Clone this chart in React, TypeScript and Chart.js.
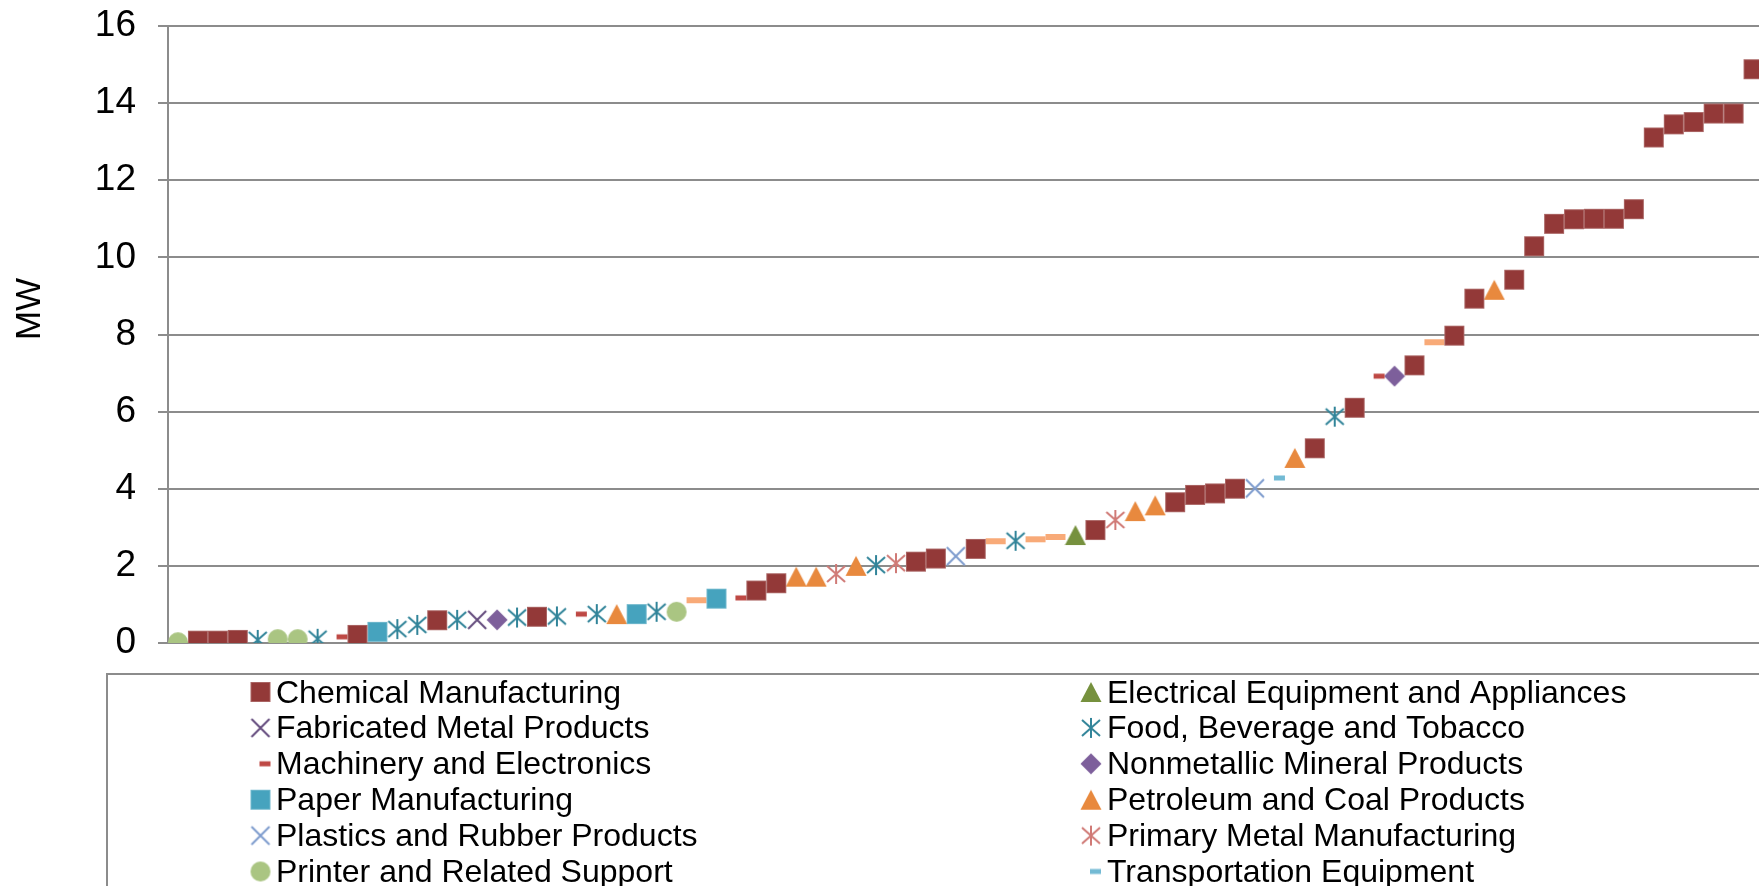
import React, { useEffect, useRef } from "react";
import { Chart, registerables } from "chart.js";

Chart.register(...registerables);

// ---- data ----
const sectorKeys = ["C", "E", "F", "B", "M", "N", "P", "O", "L", "S", "R", "T", "W"];
const sectorNames = [
  "Chemical Manufacturing",
  "Electrical Equipment and Appliances",
  "Fabricated Metal Products",
  "Food, Beverage and Tobacco",
  "Machinery and Electronics",
  "Nonmetallic Mineral Products",
  "Paper Manufacturing",
  "Petroleum and Coal Products",
  "Plastics and Rubber Products",
  "Primary Metal Manufacturing",
  "Printer and Related Support",
  "Transportation Equipment",
  "Wood Products",
];
const sectorColors = [
  "#933938", "#76913E", "#644B7D", "#318499", "#BE4844", "#7D5F9B", "#46A3BE",
  "#E8893E", "#7D9BCD", "#D07A76", "#AAC582", "#73BAD4", "#F8AA78",
];
const sectorMarkers = [
  "square", "triangle", "x", "asterisk", "dashR", "diamond", "square",
  "triangle", "x", "asterisk", "circle", "dashR", "dashLong",
];

// facilities sorted by capacity (MW) and the sector of each one
const pointSector = [
  "R", "C", "C", "C", "B", "R", "R", "B", "M", "C",
  "P", "B", "B", "C", "B", "F", "N", "B", "C", "B",
  "M", "B", "O", "P", "B", "R", "W", "P", "M", "C",
  "C", "O", "O", "S", "O", "B", "S", "C", "C", "L",
  "C", "W", "B", "W", "W", "E", "C", "S", "O", "O",
  "C", "C", "C", "C", "L", "T", "O", "C", "B", "C",
  "M", "N", "C", "W", "C", "C", "O", "C", "C", "C",
  "C", "C", "C", "C", "C", "C", "C", "C", "C", "C",
];
const pointMW = [
  0.02, 0.06, 0.06, 0.08, 0.08, 0.1, 0.1, 0.11, 0.16, 0.21,
  0.29, 0.36, 0.47, 0.59, 0.6, 0.6, 0.6, 0.66, 0.68, 0.69,
  0.75, 0.75, 0.75, 0.75, 0.81, 0.81, 1.11, 1.15, 1.17, 1.36,
  1.55, 1.72, 1.72, 1.79, 2.0, 2.02, 2.07, 2.11, 2.19, 2.25,
  2.44, 2.64, 2.65, 2.69, 2.75, 2.8, 2.93, 3.19, 3.42, 3.57,
  3.65, 3.84, 3.88, 4.0, 4.01, 4.28, 4.8, 5.05, 5.87, 6.1,
  6.92, 6.92, 7.2, 7.8, 7.97, 8.93, 9.16, 9.42, 10.29, 10.87,
  10.99, 11.0, 11.0, 11.25, 13.11, 13.45, 13.51, 13.73, 13.73, 14.88,
];
const yTicks = [0, 2, 4, 6, 8, 10, 12, 14, 16];
const yTitle = "MW";

const FONT = '"Liberation Sans", Arial, sans-serif';
const W = 1800;
const H = 1000;
const GRID = "#8c8c8c";

function makeMarker(kind: string, color: string): HTMLCanvasElement {
  const c = document.createElement("canvas");
  let w = 22;
  let h = 22;
  if (kind === "dashR") { w = 24; h = 8; }
  if (kind === "dashLong") { w = 22; h = 8; }
  c.width = w;
  c.height = h;
  const g = c.getContext("2d")!;
  g.fillStyle = color;
  g.strokeStyle = color;
  switch (kind) {
    case "square":
      g.fillRect(1, 1, 20, 20);
      g.strokeStyle = "rgba(255,255,255,0.22)";
      g.lineWidth = 1;
      g.strokeRect(1.5, 1.5, 19, 19);
      break;
    case "circle":
      g.beginPath();
      g.arc(11, 11, 10, 0, Math.PI * 2);
      g.fill();
      break;
    case "diamond":
      g.beginPath();
      g.moveTo(11, 0.5);
      g.lineTo(21.5, 11);
      g.lineTo(11, 21.5);
      g.lineTo(0.5, 11);
      g.closePath();
      g.fill();
      break;
    case "triangle":
      g.beginPath();
      g.moveTo(11, 1);
      g.lineTo(21.5, 21);
      g.lineTo(0.5, 21);
      g.closePath();
      g.fill();
      break;
    case "x":
      g.lineWidth = 2;
      g.beginPath();
      g.moveTo(2, 2); g.lineTo(20, 20);
      g.moveTo(20, 2); g.lineTo(2, 20);
      g.stroke();
      break;
    case "asterisk":
      g.lineWidth = 2;
      g.beginPath();
      g.moveTo(2, 3); g.lineTo(20, 19);
      g.moveTo(20, 3); g.lineTo(2, 19);
      g.moveTo(11, 1); g.lineTo(11, 21);
      g.stroke();
      break;
    case "dashR":
      g.fillRect(11, 1.5, 11, 5);
      break;
    case "dashLong":
      g.fillRect(1, 1, 20, 6);
      break;
  }
  return c;
}

export default function App() {
  const ref = useRef<HTMLCanvasElement | null>(null);

  useEffect(() => {
    if (!ref.current) return;
    const markers = sectorKeys.map((_, i) => makeMarker(sectorMarkers[i], sectorColors[i]));

    const datasets = sectorKeys.map((key, si) => ({
      label: sectorNames[si],
      data: pointMW
        .map((v, i) => ({ x: i + 1, y: v, s: pointSector[i] }))
        .filter((p) => p.s === key)
        .map((p) => ({ x: p.x, y: p.y })),
      pointStyle: markers[si] as any,
      pointRadius: 10,
      backgroundColor: sectorColors[si],
      borderColor: sectorColors[si],
      showLine: false,
    }));

    const overlay = {
      id: "overlay",
      afterDraw(chart: any) {
        const ctx = chart.ctx as CanvasRenderingContext2D;
        ctx.save();
        // axis title
        ctx.translate(30, 309);
        ctx.rotate(-Math.PI / 2);
        ctx.fillStyle = "#000";
        ctx.font = `35px ${FONT}`;
        ctx.textAlign = "center";
        ctx.textBaseline = "middle";
        ctx.fillText(yTitle, 0, 0);
        ctx.restore();

        // legend box
        ctx.save();
        ctx.strokeStyle = GRID;
        ctx.lineWidth = 2;
        ctx.strokeRect(107, 674, W, H);
        ctx.font = `32px ${FONT}`;
        ctx.fillStyle = "#000";
        ctx.textAlign = "left";
        ctx.textBaseline = "alphabetic";
        const colMarkerX = [260.5, 1091];
        const colTextX = [276, 1107];
        sectorNames.forEach((name, i) => {
          const col = i % 2;
          const row = Math.floor(i / 2);
          const cy = 692 + row * 35.9;
          const m = markers[i];
          ctx.drawImage(m, colMarkerX[col] - m.width / 2, cy - m.height / 2);
          ctx.fillText(name, colTextX[col], cy + 10.5);
        });
        ctx.restore();
      },
    };

    const chart = new Chart(ref.current, {
      type: "scatter",
      data: { datasets },
      plugins: [overlay],
      options: {
        animation: false,
        responsive: false,
        devicePixelRatio: 1,
        layout: { padding: { left: 0, top: 26, right: W - 1763.5, bottom: H - 643 } },
        plugins: { legend: { display: false }, tooltip: { enabled: false } },
        scales: {
          x: { type: "linear", min: 0.5, max: 80.5, display: false },
          y: {
            min: 0,
            max: 16,
            afterBuildTicks: (s: any) => {
              s.ticks = yTicks.map((v) => ({ value: v }));
            },
            afterFit: (s: any) => {
              s.width = 168;
              s.paddingTop = 0;
              s.paddingBottom = 0;
            },
            ticks: {
              padding: 22,
              color: "#000",
              font: { family: FONT, size: 37 },
            },
            grid: { color: GRID, lineWidth: 2, tickLength: 10, drawTicks: true },
            border: { color: GRID, width: 2 },
          },
        },
      } as any,
    });
    return () => chart.destroy();
  }, []);

  return (
    <div
      style={{
        position: "fixed",
        left: 0,
        top: 0,
        width: "100vw",
        height: "100vh",
        overflow: "hidden",
        background: "#fff",
      }}
    >
      <canvas ref={ref} width={W} height={H} style={{ display: "block" }} />
    </div>
  );
}
